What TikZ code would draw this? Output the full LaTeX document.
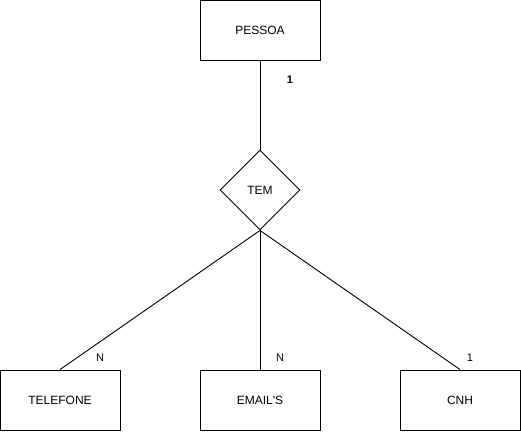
\documentclass[tikz,border=0pt]{standalone}
\usepackage{fontspec}
\setmainfont{Liberation Sans}
\newfontfamily\plainfont{Liberation Sans}
\usetikzlibrary{shapes.geometric}
\begin{document}
\begin{tikzpicture}[x=1pt,y=-1pt,
  ent/.style={draw,line width=0.9pt,minimum width=120pt,minimum height=60pt,inner sep=0pt,font=\fontsize{12}{14}\selectfont},
  rel/.style={draw,line width=0.9pt,diamond,minimum width=80pt,minimum height=80pt,inner sep=0pt,aspect=1,font=\fontsize{12}{14}\selectfont},
  lbl/.style={font=\fontsize{11}{13}\selectfont,inner sep=0pt},
  conn/.style={line width=0.9pt}]
\useasboundingbox (0,0) rectangle (521,431);
\node[ent] (pessoa) at (260,30) {PESSOA};
\node[rel] (tem) at (260,190) {TEM};
\node[ent] (tel) at (60,400) {TELEFONE};
\node[ent] (email) at (260,400) {\plainfont EMAIL'S};
\node[ent] (cnh) at (460,400) {CNH};
\draw[conn] (pessoa.south) -- (tem.north);
\draw[conn] (tem.south) -- (tel.north);
\draw[conn] (tem.south) -- (email.north);
\draw[conn] (tem.south) -- (cnh.north);
\node[lbl,font=\bfseries\fontsize{11}{13}\selectfont] (l1) at (290,80) {1};
\node[lbl] (l2) at (100,358) {N};
\node[lbl] (l3) at (280,358) {N};
\node[lbl] (l4) at (470,358) {1};
\end{tikzpicture}
\end{document}
